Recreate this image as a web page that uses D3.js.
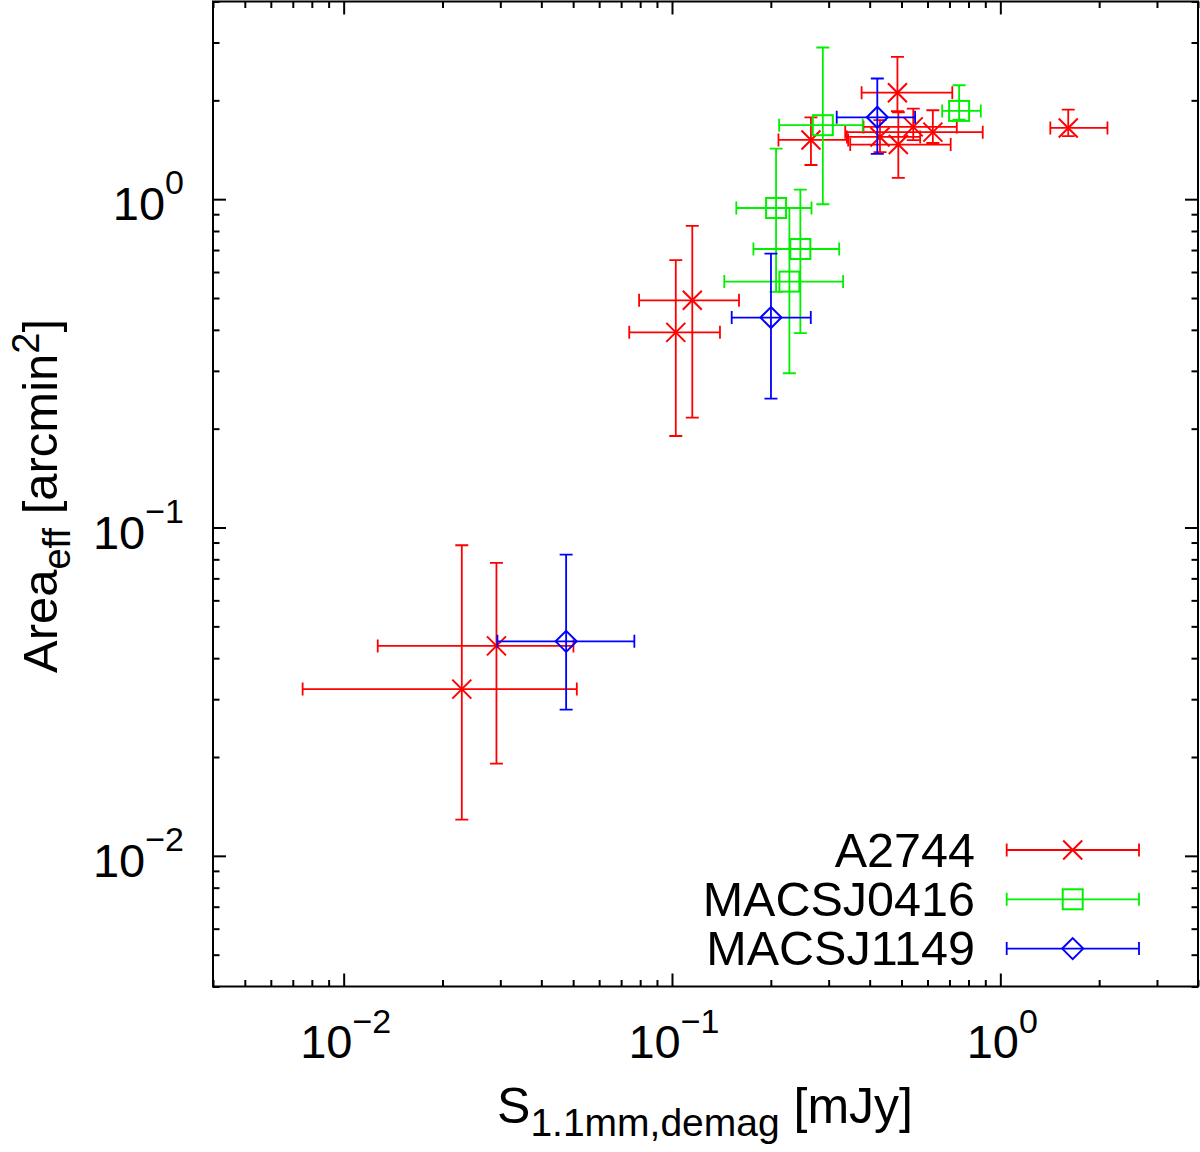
<!DOCTYPE html>
<html>
<head>
<meta charset="utf-8">
<script src="https://cdn.jsdelivr.net/npm/d3@7"></script>
<style>
  body { margin: 0; background: #fff; }
  svg { display: block; font-family: "Liberation Sans", Arial, Helvetica, sans-serif; }
</style>
</head>
<body>
<div id="chart"></div>
<script>
// ---- data ----
const seriesNames = ['A2744', 'MACSJ0416', 'MACSJ1149'];

const a2744Flux   = [0.0229, 0.0292, 0.1027, 0.1153, 0.265, 0.43, 0.486, 0.489, 0.543, 0.623, 1.61];
const a2744FluxLo = [0.0075, 0.0127, 0.0741, 0.0794, 0.211, 0.341, 0.378, 0.349, 0.383, 0.337, 1.42];
const a2744FluxHi = [0.0513, 0.0501, 0.140, 0.160, 0.344, 0.57, 0.714, 0.706, 0.737, 0.884, 2.12];
const a2744Area   = [0.0322, 0.0436, 0.393, 0.492, 1.515, 1.547, 2.11, 1.467, 1.66, 1.60, 1.648];
const a2744AreaLo = [0.0129, 0.0191, 0.190, 0.216, 1.271, 1.39, 1.853, 1.161, 1.512, 1.483, 1.555];
const a2744AreaHi = [0.0883, 0.078, 0.652, 0.829, 1.776, 1.74, 2.713, 1.84, 1.888, 1.866, 1.875];

const m0416Flux   = [0.2075, 0.2278, 0.246, 0.288, 0.749];
const m0416FluxLo = [0.157, 0.1443, 0.177, 0.212, 0.665];
const m0416FluxHi = [0.266, 0.332, 0.323, 0.381, 0.872];
const m0416Area   = [0.940, 0.561, 0.705, 1.68, 1.857];
const m0416AreaLo = [0.522, 0.295, 0.391, 0.965, 1.748];
const m0416AreaHi = [1.426, 0.940, 1.07, 2.897, 2.223];

const m1149Flux   = [0.0476, 0.2002, 0.422];
const m1149FluxLo = [0.0294, 0.152, 0.3175];
const m1149FluxHi = [0.0768, 0.2647, 0.55];
const m1149Area   = [0.045, 0.436, 1.776];
const m1149AreaLo = [0.0279, 0.247, 1.373];
const m1149AreaHi = [0.0827, 0.683, 2.331];

const majorTicks = [0.01, 0.1, 1];
const majorExps  = ['\u22122', '\u22121', '0'];

// ---- layout ----
const W = 1200, H = 1152;
const L = 213, T = 1.5, PW = 985, PH = 985;
const COLORS = ['#ff0000', '#00f000', '#0000ff'];
const SYMBOLS = ['cross', 'square', 'diamond'];
const CAP = 6.5;

function build(f, fl, fh, a, al, ah) {
  return f.map((v, i) => ({ x: v, xl: fl[i], xh: fh[i], y: a[i], yl: al[i], yh: ah[i] }));
}
const series = [
  build(a2744Flux, a2744FluxLo, a2744FluxHi, a2744Area, a2744AreaLo, a2744AreaHi),
  build(m0416Flux, m0416FluxLo, m0416FluxHi, m0416Area, m0416AreaLo, m0416AreaHi),
  build(m1149Flux, m1149FluxLo, m1149FluxHi, m1149Area, m1149AreaLo, m1149AreaHi)
];

const x = d3.scaleLog().domain([0.004, 4]).range([L, L + PW]);
const y = d3.scaleLog().domain([0.004, 4]).range([T + PH, T]);

const svg = d3.select('#chart').append('svg')
  .attr('width', W)
  .attr('height', H);

// ---- ticks (all inward, mirrored on all four sides) ----
const isMajor = v => Math.abs(Math.log10(v) - Math.round(Math.log10(v))) < 1e-6;
const minorX = x.ticks().filter(v => !isMajor(v));
const minorY = y.ticks().filter(v => !isMajor(v));

const axisDefs = [
  [d3.axisBottom(x), `translate(0,${T + PH})`, minorX],
  [d3.axisTop(x), `translate(0,${T})`, minorX],
  [d3.axisLeft(y), `translate(${L},0)`, minorY],
  [d3.axisRight(y), `translate(${L + PW},0)`, minorY]
];
axisDefs.forEach(([ax, tr, minors]) => {
  [[minors, -6.5], [majorTicks, -13]].forEach(([vals, size]) => {
    const g = svg.append('g')
      .attr('transform', tr)
      .call(ax.tickValues(vals).tickSize(size).tickSizeOuter(0).tickFormat(''));
    g.select('.domain').remove();
    g.selectAll('.tick line').attr('stroke', '#000').attr('stroke-width', 2);
  });
});

// ---- tick labels ----
svg.selectAll('.xlab')
  .data(majorTicks)
  .enter()
  .append('text')
  .attr('class', 'xlab')
  .attr('x', d => x(d) + 2)
  .attr('y', T + PH + 71)
  .attr('text-anchor', 'middle')
  .attr('font-size', 47)
  .each(function (d, i) {
    const t = d3.select(this);
    t.append('tspan').text('10');
    t.append('tspan').attr('dy', -25).attr('font-size', 34).text(majorExps[i]);
  });

svg.selectAll('.ylab')
  .data(majorTicks)
  .enter()
  .append('text')
  .attr('class', 'ylab')
  .attr('x', 184)
  .attr('y', d => y(d) + 21)
  .attr('text-anchor', 'end')
  .attr('font-size', 47)
  .each(function (d, i) {
    const t = d3.select(this);
    t.append('tspan').text('10');
    t.append('tspan').attr('dy', -26).attr('font-size', 34).text(majorExps[i]);
  });

// ---- axis titles ----
const xt = svg.append('text')
  .attr('x', 705)
  .attr('y', 1123)
  .attr('text-anchor', 'middle')
  .attr('font-size', 50);
xt.append('tspan').text('S');
xt.append('tspan').attr('dy', 13).attr('font-size', 39).text('1.1mm,demag');
xt.append('tspan').attr('dy', -13).text(' [mJy]');

const yt = svg.append('text')
  .attr('transform', 'translate(57,496) rotate(-90)')
  .attr('text-anchor', 'middle')
  .attr('font-size', 49);
yt.append('tspan').text('Area');
yt.append('tspan').attr('dy', 13).attr('font-size', 38).text('eff');
yt.append('tspan').attr('dy', -13).text(' [arcmin');
yt.append('tspan').attr('dy', -18).attr('font-size', 38).text('2');
yt.append('tspan').attr('dy', 18).text(']');

// ---- markers ----
function marker(g, sym, cx, cy, color) {
  if (sym === 'cross') {
    const r = 9.5;
    g.append('path')
      .attr('d', `M${cx - r},${cy - r}L${cx + r},${cy + r}M${cx - r},${cy + r}L${cx + r},${cy - r}`)
      .attr('stroke', color).attr('stroke-width', 2).attr('fill', 'none');
  } else if (sym === 'square') {
    const r = 10;
    g.append('rect')
      .attr('x', cx - r).attr('y', cy - r).attr('width', 2 * r).attr('height', 2 * r)
      .attr('stroke', color).attr('stroke-width', 2).attr('fill', 'none');
  } else {
    const r = 10.5;
    g.append('path')
      .attr('d', `M${cx},${cy - r}L${cx + r},${cy}L${cx},${cy + r}L${cx - r},${cy}Z`)
      .attr('stroke', color).attr('stroke-width', 2).attr('fill', 'none');
  }
}

function hbar(g, x1, x2, yy, color) {
  g.append('path')
    .attr('d', `M${x1},${yy}L${x2},${yy}M${x1},${yy - CAP}L${x1},${yy + CAP}M${x2},${yy - CAP}L${x2},${yy + CAP}`)
    .attr('stroke', color).attr('stroke-width', 1.8).attr('fill', 'none');
}
function vbar(g, xx, y1, y2, color) {
  g.append('path')
    .attr('d', `M${xx},${y1}L${xx},${y2}M${xx - CAP},${y1}L${xx + CAP},${y1}M${xx - CAP},${y2}L${xx + CAP},${y2}`)
    .attr('stroke', color).attr('stroke-width', 1.8).attr('fill', 'none');
}

// ---- data points with x and y error bars ----
series.forEach((pts, si) => {
  const g = svg.append('g').attr('class', 'series-' + si);
  pts.forEach(d => {
    hbar(g, x(d.xl), x(d.xh), y(d.y), COLORS[si]);
    vbar(g, x(d.x), y(d.yl), y(d.yh), COLORS[si]);
    marker(g, SYMBOLS[si], x(d.x), y(d.y), COLORS[si]);
  });
});

// ---- legend ----
seriesNames.forEach((name, i) => {
  const ry = 850 + i * 49.3;
  const g = svg.append('g').attr('class', 'legend');
  hbar(g, 1006.7, 1139, ry, COLORS[i]);
  marker(g, SYMBOLS[i], 1072.7, ry, COLORS[i]);
  g.append('text')
    .attr('x', 975)
    .attr('y', ry + 16.5)
    .attr('text-anchor', 'end')
    .attr('font-size', 48.5)
    .text(name);
});

// ---- frame ----
svg.append('rect')
  .attr('x', L).attr('y', T)
  .attr('width', PW).attr('height', PH)
  .attr('fill', 'none')
  .attr('stroke', '#000')
  .attr('stroke-width', 2);
</script>
</body>
</html>
